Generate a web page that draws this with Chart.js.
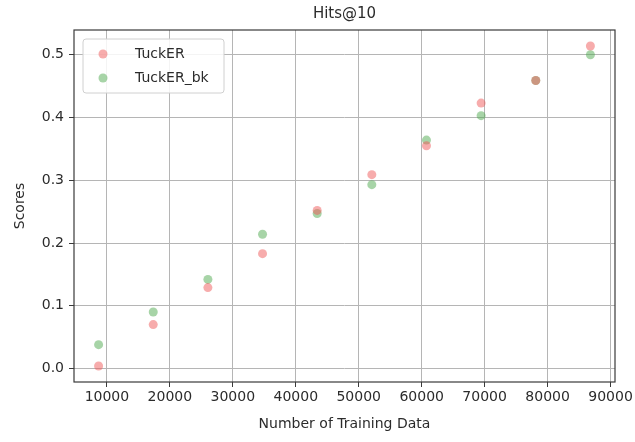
<!DOCTYPE html>
<html>
<head>
<meta charset="utf-8">
<script src="https://cdn.jsdelivr.net/npm/chart.js@4.4.1/dist/chart.umd.min.js"></script>
<style>
    html, body { margin: 0; padding: 0; background: #fff; }
    #wrap { width: 635px; height: 442px; }
</style>
</head>
<body>
<div id="wrap"><canvas id="myChart" width="635" height="442"></canvas></div>
<script>
    // Data
    const trainSizes = [8680, 17360, 26040, 34720, 43400, 52080, 60760, 69440, 78120, 86800];
    const tuckerScores = [0.004, 0.070, 0.129, 0.183, 0.252, 0.309, 0.355, 0.423, 0.459, 0.514];
    const tuckerBkScores = [0.038, 0.090, 0.142, 0.214, 0.247, 0.293, 0.364, 0.403, 0.459, 0.500];
    const xTicks = [10000, 20000, 30000, 40000, 50000, 60000, 70000, 80000, 90000];
    const yTicks = [0.0, 0.1, 0.2, 0.3, 0.4, 0.5];

    const textColor = '#2b2b2b';
    const fontFam = '"DejaVu Sans", sans-serif';

    // build point lists from the arrays
    function toPoints(ys){
        const pts = [];
        for(let i = 0; i < trainSizes.length; i++){
            pts.push({x: trainSizes[i], y: ys[i]});
        }
        return pts;
    }

    // Frame round the plot area (matplotlib style box)
    const framePlugin = {
        id: 'frame',
        beforeDatasetsDraw(chart){
            const a = chart.chartArea;
            const ctx = chart.ctx;
            ctx.save();
            ctx.strokeStyle = '#3a3a3a';
            ctx.lineWidth = 1.2;
            ctx.strokeRect(a.left, a.top, a.right - a.left, a.bottom - a.top);
            ctx.restore();
        }
    };

    // Legend box drawn inside the upper left of the plot
    const insideLegend = {
        id: 'insideLegend',
        afterDatasetsDraw(chart){
            const ctx = chart.ctx;
            const a = chart.chartArea;
            const x = a.left + 9, y = a.top + 9;
            const w = 141, h = 54;
            ctx.save();
            ctx.beginPath();
            ctx.roundRect(x, y, w, h, 3);
            ctx.fillStyle = 'rgba(255,255,255,0.85)';
            ctx.fill();
            ctx.strokeStyle = '#d0d0d0';
            ctx.lineWidth = 1;
            ctx.stroke();
            ctx.font = '14px ' + fontFam;
            ctx.textBaseline = 'middle';
            chart.data.datasets.forEach((ds, i) => {
                const cy = y + 15 + i * 24;
                ctx.beginPath();
                ctx.arc(x + 20, cy, 4.5, 0, Math.PI * 2);
                ctx.fillStyle = ds.backgroundColor;
                ctx.fill();
                ctx.fillStyle = textColor;
                ctx.fillText(ds.label, x + 52, cy);
            });
            ctx.restore();
        }
    };

    const ctx = document.getElementById('myChart').getContext('2d');
    const myChart = new Chart(ctx, {
        type: 'scatter',
        data: {
            datasets: [{
                label: 'TuckER',
                data: toPoints(tuckerScores),
                backgroundColor: 'rgba(240,90,90,0.5)',
                borderWidth: 0,
                pointRadius: 4.5,
                pointHoverRadius: 4.5
            }, {
                label: 'TuckER_bk',
                data: toPoints(tuckerBkScores),
                backgroundColor: 'rgba(80,170,80,0.5)',
                borderWidth: 0,
                pointRadius: 4.5,
                pointHoverRadius: 4.5
            }]
        },
        options: {
            responsive: false,
            animation: false,
            layout: {
                padding: {left: 0, right: 20, top: 0, bottom: 0}
            },
            plugins: {
                legend: {display: false},
                tooltip: {enabled: false},
                title: {
                    display: true,
                    text: 'Hits@10',
                    fullSize: false,
                    color: textColor,
                    font: {family: fontFam, size: 15, weight: 'normal'},
                    padding: {top: 5, bottom: 7}
                }
            },
            scales: {
                x: {
                    type: 'linear',
                    min: 4774,
                    max: 90706,
                    afterBuildTicks(scale){
                        scale.ticks = xTicks.map(v => ({value: v}));
                    },
                    afterFit(scale){
                        scale.height = 60;
                    },
                    grid: {
                        color: '#b5b5b5',
                        lineWidth: 1,
                        drawTicks: true,
                        tickLength: 5,
                        tickColor: '#3a3a3a'
                    },
                    border: {display: false},
                    ticks: {
                        color: textColor,
                        font: {family: fontFam, size: 14},
                        padding: 2,
                        maxRotation: 0,
                        autoSkip: false,
                        callback: v => String(v)
                    },
                    title: {
                        display: true,
                        text: 'Number of Training Data',
                        color: textColor,
                        font: {family: fontFam, size: 14},
                        padding: {top: 2, bottom: 9}
                    }
                },
                y: {
                    type: 'linear',
                    min: -0.0215,
                    max: 0.5395,
                    afterBuildTicks(scale){
                        scale.ticks = yTicks.map(v => ({value: v}));
                    },
                    afterFit(scale){
                        scale.width = 74;
                    },
                    grid: {
                        color: '#b5b5b5',
                        lineWidth: 1,
                        drawTicks: true,
                        tickLength: 5,
                        tickColor: '#3a3a3a'
                    },
                    border: {display: false},
                    ticks: {
                        color: textColor,
                        font: {family: fontFam, size: 14},
                        padding: 5,
                        autoSkip: false,
                        callback: v => v.toFixed(1)
                    },
                    title: {
                        display: true,
                        text: 'Scores',
                        color: textColor,
                        font: {family: fontFam, size: 14},
                        padding: {top: 12, bottom: 4}
                    }
                }
            }
        },
        plugins: [framePlugin, insideLegend]
    });
</script>
</body>
</html>
